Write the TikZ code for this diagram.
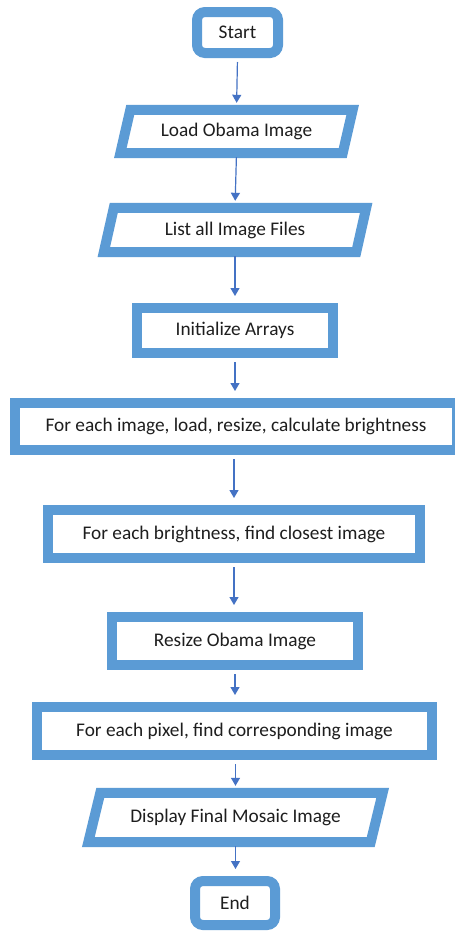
\documentclass[tikz,border=0pt]{standalone}
\usepackage{fontspec}
\setmainfont{Carlito}
\usetikzlibrary{arrows.meta,calc}
\definecolor{boxblue}{HTML}{5B9BD5}
\definecolor{arrowblue}{HTML}{4472C4}
\definecolor{txt}{HTML}{1E1E1E}
\tikzset{
  base/.style={line width=10pt, draw=boxblue, fill=white, text=txt, inner sep=0pt,
    font=\fontsize{19.3}{23}\selectfont, align=center},
  terminal/.style={base, rounded corners=8pt},
  procbox/.style={base},
  iotext/.style={inner sep=0pt, text=txt, font=\fontsize{19.3}{23}\selectfont},
  flow/.style={draw=arrowblue, line width=1.2pt, -{Triangle[width=9pt,length=8pt]},
    shorten <=4pt, shorten >=7pt},
}
\newcommand{\iobox}[2]{% node name, skew
  \draw[line width=10pt, draw=boxblue, fill=white, line join=miter]
    ($(#1.south west)+(-#2/2,0)$) -- ($(#1.south east)+(-#2/2,0)$) --
    ($(#1.north east)+(#2/2,0)$) -- ($(#1.north west)+(#2/2,0)$) -- cycle;}
\begin{document}
\begin{tikzpicture}[x=1pt,y=-1pt]
\useasboundingbox (0,0) rectangle (455,932);
\clip (0,0) rectangle (455,932);
\fill[white] (0,0) rectangle (455,932);

\node[terminal, minimum width=81pt, minimum height=41pt] (start) at (237.5,32.5) {Start};

\node[iotext, minimum width=222pt, minimum height=43pt] (load) at (236.5,131.5) {};
\iobox{load}{10}
\node[iotext] at (load) {Load Obama Image};

\node[iotext, minimum width=252pt, minimum height=44pt] (list) at (235,230) {};
\iobox{list}{10}
\node[iotext] at (list) {List all Image Files};

\node[procbox, minimum width=196pt, minimum height=45pt] (init) at (235,330.5) {Initialize Arrays};

\node[procbox, minimum width=442pt, minimum height=47pt] (img) at (236,426.5) {For each image, load, resize, calculate brightness};

\node[procbox, minimum width=372pt, minimum height=48pt] (bright) at (234,534) {For each brightness, find closest image};

\node[procbox, minimum width=246pt, minimum height=48pt] (resize) at (235,641) {Resize Obama Image};

\node[procbox, minimum width=395pt, minimum height=48pt] (pixel) at (234.5,731) {For each pixel, find corresponding image};

\node[iotext, minimum width=282pt, minimum height=49pt] (display) at (235.5,817.5) {};
\iobox{display}{12}
\node[iotext] at (display) {Display Final Mosaic Image};

\node[terminal, minimum width=80pt, minimum height=44pt] (end) at (235,903) {End};

\draw[flow] (start.south) -- (load.north);
\draw[flow] (load.south) -- (list.north);
\draw[flow] (list.south) -- (init.north);
\draw[flow] (init.south) -- (img.north -| init.south);
\draw[flow] (img.south -| bright.north) -- (bright.north);
\draw[flow] (bright.south) -- (resize.north -| bright.south);
\draw[flow] (resize.south) -- (pixel.north -| resize.south);
\draw[flow] (pixel.south -| display.north) -- (display.north);
\draw[flow] (display.south) -- (end.north -| display.south);
\end{tikzpicture}
\end{document}
